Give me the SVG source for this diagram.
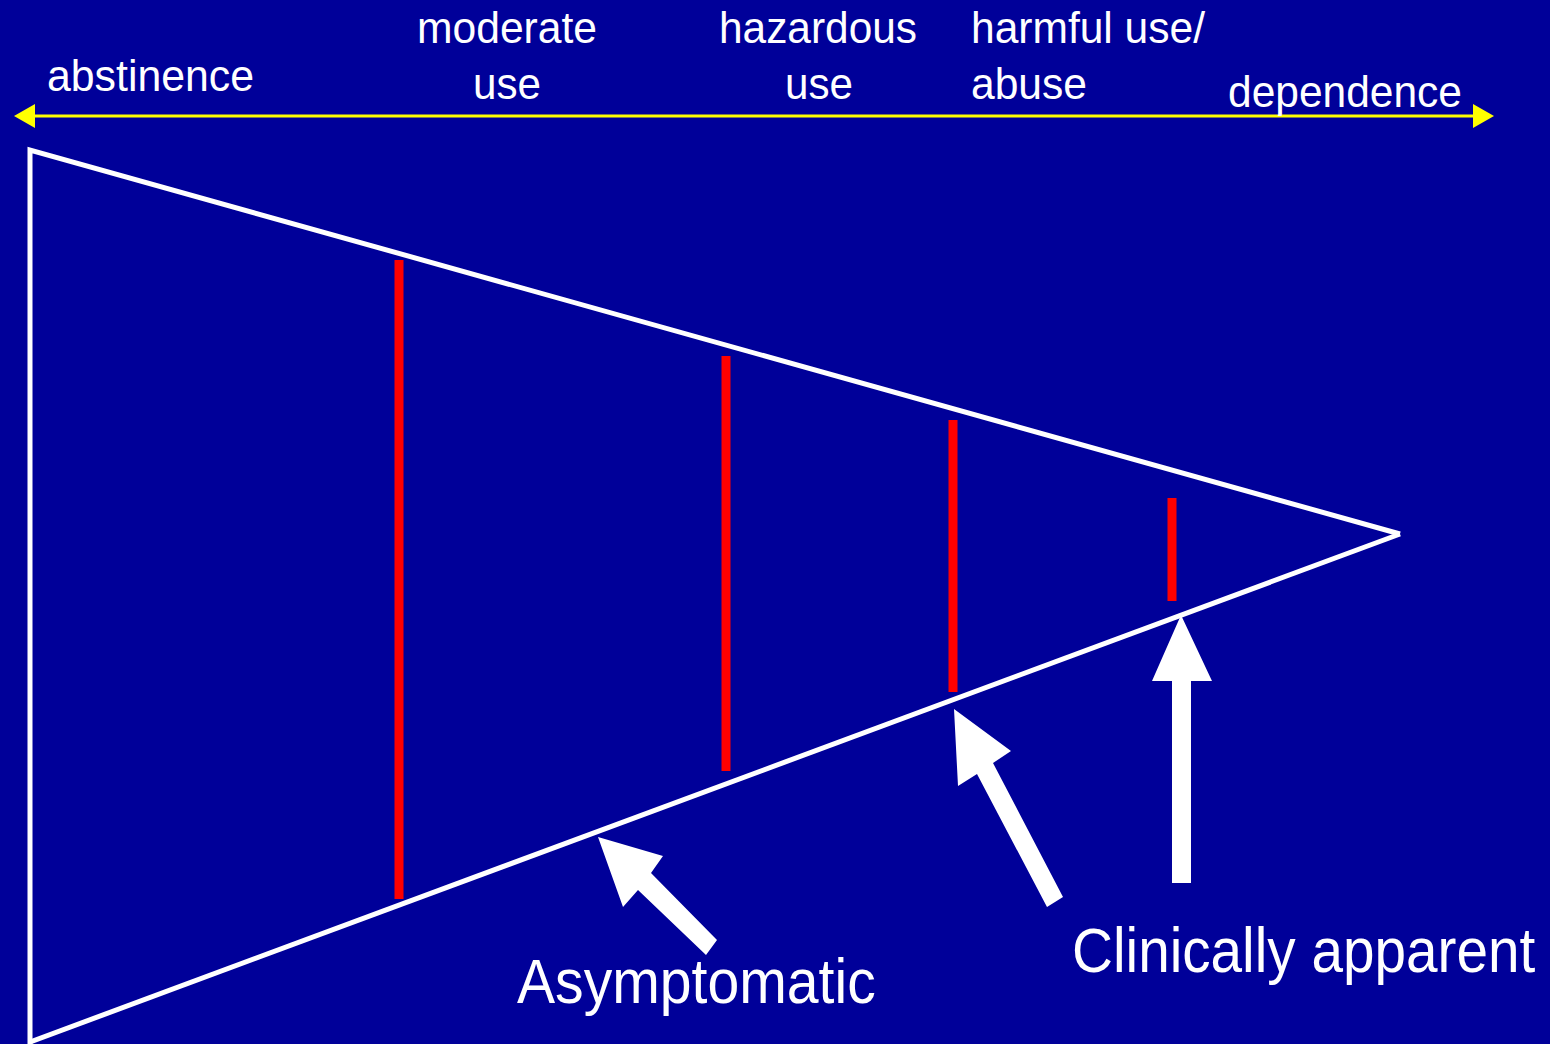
<svg xmlns="http://www.w3.org/2000/svg" width="1550" height="1044" viewBox="0 0 1550 1044">
<style>
.lbl{font-family:"Liberation Sans",Arial,sans-serif;fill:#ffffff}
.s{font-size:44px}
.b{font-size:63px}
.red{fill:#ff0000}
.wl{stroke:#ffffff;stroke-width:5;fill:none;stroke-linecap:butt}
.arr{fill:#ffffff}
</style>
<rect x="0" y="0" width="1550" height="1044" fill="#000099"/>
<g id="scale">
<line x1="32" y1="116" x2="1476" y2="116" stroke="#ffff00" stroke-width="3"/>
<polygon points="14,116 35,104 35,128" fill="#ffff00"/>
<polygon points="1494,116 1473,104 1473,128" fill="#ffff00"/>
</g>
<g id="labels">
<text class="lbl s" x="47" y="91" textLength="207" lengthAdjust="spacingAndGlyphs">abstinence</text>
<text class="lbl s" x="417" y="43" textLength="180" lengthAdjust="spacingAndGlyphs">moderate</text>
<text class="lbl s" x="473" y="99" textLength="68" lengthAdjust="spacingAndGlyphs">use</text>
<text class="lbl s" x="719" y="43" textLength="198" lengthAdjust="spacingAndGlyphs">hazardous</text>
<text class="lbl s" x="785" y="99" textLength="68" lengthAdjust="spacingAndGlyphs">use</text>
<text class="lbl s" x="971" y="43" textLength="234" lengthAdjust="spacingAndGlyphs">harmful use/</text>
<text class="lbl s" x="971" y="99" textLength="116" lengthAdjust="spacingAndGlyphs">abuse</text>
<text class="lbl s" x="1228" y="107" textLength="234" lengthAdjust="spacingAndGlyphs">dependence</text>
</g>
<g id="funnel">
<polyline class="wl" points="1400,534 30,150 30,1044"/>
<line class="wl" x1="30" y1="1042" x2="1400" y2="534"/>
</g>
<g id="stages">
<rect class="red" x="394.5" y="260" width="9" height="639"/>
<rect class="red" x="721.5" y="356" width="9" height="415"/>
<rect class="red" x="948.5" y="420" width="9" height="272"/>
<rect class="red" x="1167.5" y="498" width="9" height="103"/>
</g>
<g id="connectors">
<polygon class="arr" points="598,837 663,856 651,873 717,940 706,955 638,890 623,907"/>
<polygon class="arr" points="954,709 1011,751 993,763 1063,897 1047,907 977,774 958,786"/>
<polygon class="arr" points="1181,615 1212,681 1191,681 1191,883 1172,883 1172,681 1152,681"/>
</g>
<g id="captions">
<text class="lbl b" transform="translate(517,1003) scale(0.907,1)" x="0" y="0">Asymptomatic</text>
<text class="lbl b" transform="translate(1072,972) scale(0.9,1)" x="0" y="0">Clinically apparent</text>
</g>
</svg>
